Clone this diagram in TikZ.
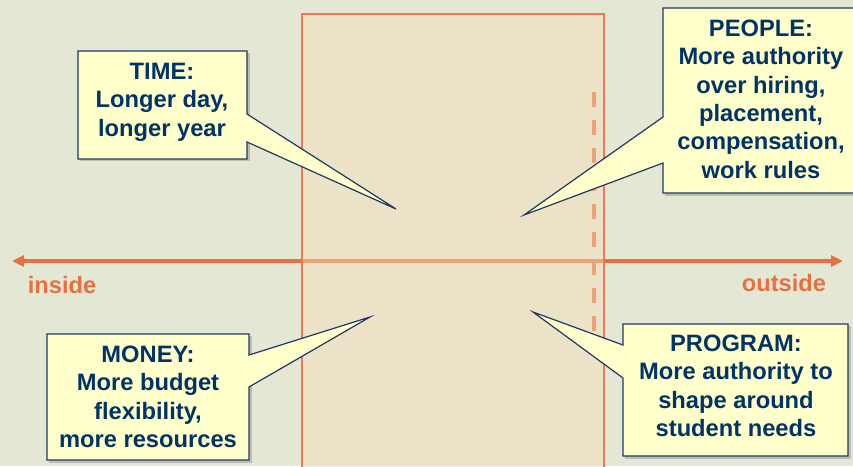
\documentclass[tikz,border=0pt]{standalone}
\usepackage{fontspec}
\setmainfont{Liberation Sans}
\usetikzlibrary{arrows.meta}
\definecolor{bgc}{RGB}{229,231,213}
\definecolor{zonefill}{RGB}{244,222,184}
\definecolor{orangec}{RGB}{232,112,64}
\definecolor{borderc}{RGB}{240,120,80}
\definecolor{callfill}{RGB}{255,255,204}
\definecolor{calldraw}{RGB}{31,56,100}
\definecolor{navy}{RGB}{0,51,102}
\tikzset{
  calloutshape/.style={fill=callfill, draw=calldraw, line width=1.2pt, line join=miter},
  shadowshape/.style={fill=black, opacity=0.18},
  calltext/.style={text=navy, font=\fontsize{23.7}{28.4}\selectfont\bfseries, align=center, inner sep=0pt, anchor=north},
  sidetext/.style={text=orangec, font=\fontsize{23.7}{28.4}\selectfont\bfseries, inner sep=0pt, anchor=base},
  axisarrow/.style={draw=orangec, line width=3.5pt, {Triangle[length=12pt,width=11pt]}-{Triangle[length=12pt,width=11pt]}},
  dashline/.style={draw=orangec, line width=4pt, dash pattern=on 15pt off 13pt}
}
\begin{document}
\begin{tikzpicture}[x=1pt,y=-1pt]
\fill[bgc] (0,0) rectangle (853,466);
\useasboundingbox (0,0) rectangle (853,466);
% axis
\coordinate (L) at (12,261);
\coordinate (R) at (843,261);
\draw[axisarrow] (L) -- (R);
% dashed line
\coordinate (D1) at (594,92);
\coordinate (D2) at (594,331);
\draw[dashline] (D1) -- (D2);
% zone
\fill[zonefill, fill opacity=0.45] (302,14) rectangle (604,480);
\draw[borderc, line width=1.5pt] (302,480) -- (302,14) -- (604,14) -- (604,480);
% labels
\node[sidetext] (inside) at (62,293) {inside};
\node[sidetext] (outside) at (784,291) {outside};
% tips
\coordinate (tTime) at (396,209);
\coordinate (tPeople) at (524,215);
\coordinate (tMoney) at (370,317);
\coordinate (tProgram) at (533,312);
% shadows
\fill[shadowshape] (80,53) rectangle (249.5,161);
\fill[shadowshape] (665,10) rectangle (870,195.5);
\fill[shadowshape] (49,336) rectangle (251.5,462.5);
\fill[shadowshape] (625,326) rectangle (850.5,458.5);
% callouts
\draw[calloutshape] (78,51) -- (247,51) -- (247,114) -- (tTime) -- (247,142) -- (247,159) -- (78,159) -- cycle;
\draw[calloutshape] (663,8) -- (870,8) -- (870,193) -- (663,193) -- (663,163) -- (tPeople) -- (663,117) -- cycle;
\draw[calloutshape] (47,334) -- (249,334) -- (249,355) -- (tMoney) -- (249,387) -- (249,460) -- (47,460) -- cycle;
\draw[calloutshape] (623,324) -- (848,324) -- (848,456) -- (623,456) -- (623,378) -- (tProgram) -- (623,345) -- cycle;
% texts
\node[calltext] (time) at (162,62.8) {TIME:\\Longer day,\\longer year};
\node[calltext] (people) at (761,19.5) {PEOPLE:\\More authority\\over hiring,\\placement,\\compensation,\\work rules};
\node[calltext] (money) at (148,345.8) {MONEY:\\More budget\\flexibility,\\more resources};
\node[calltext] (program) at (736,334.8) {PROGRAM:\\More authority to\\shape around\\student needs};
\end{tikzpicture}
\end{document}
